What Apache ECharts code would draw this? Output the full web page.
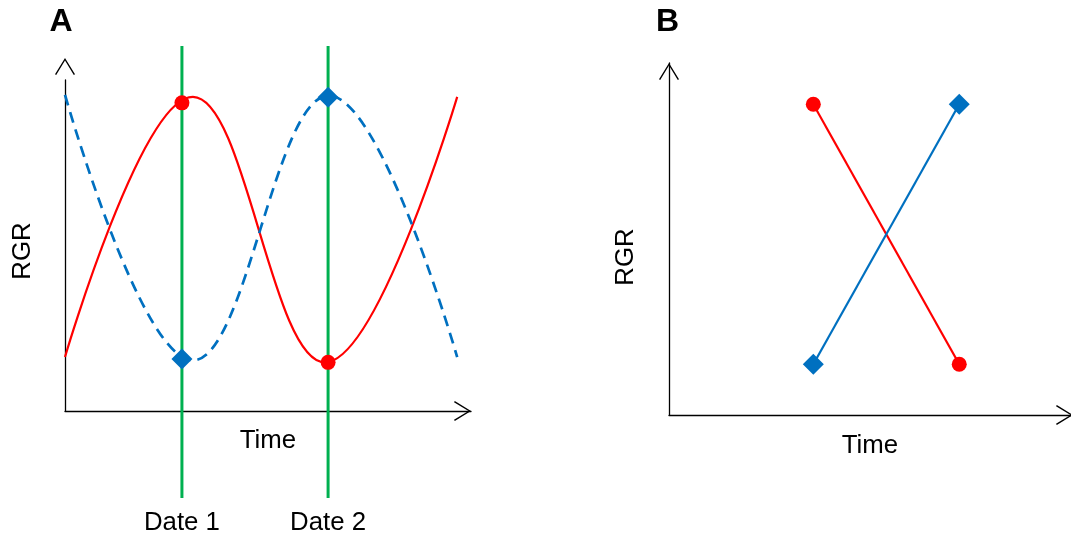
<!DOCTYPE html>
<html>
<head>
<meta charset="utf-8">
<script src="https://cdn.jsdelivr.net/npm/echarts@6/dist/echarts.min.js"></script>
<style>
  html, body { margin: 0; padding: 0; background: #fff; }
  #chart { width: 1071px; height: 535px; }
</style>
</head>
<body>
<div id="chart"></div>
<script>
// ---------- data (arbitrary units) ----------
const panelTitles = ['A', 'B'];
const axisNameX = 'Time';
const axisNameY = 'RGR';
const dateNames = ['Date 1', 'Date 2'];
const datePositions = [28.8, 64.8];          // time position of the two sampling dates (panel A)

// Panel A: smooth RGR curves through time
const timeRedA = [0, 31.5, 64.0, 96.6];
const rgrRedA = [16.3, 94.9, 14.7, 94.9];     // red solid
const timeBlueA = [0, 31.5, 65.0, 96.6];
const rgrBlueA = [95.5, 15.3, 95.3, 16.3];    // blue dashed

// Panel A: values sampled at the two dates
const redAtDates = [93.1, 14.7];
const blueAtDates = [15.7, 94.8];

// Panel B: RGR at the two dates
const timeB = [35.9, 72.2];
const rgrRedB = [88.3, 14.4];
const rgrBlueB = [14.4, 88.3];

// ---------- styling ----------
const RED = '#FF0000';
const BLUE = '#0070C0';
const GREEN = '#00B050';
const FONT = "'Liberation Sans', Arial, sans-serif";
const FS = 25.8;
const chevron = 'path://M0,16.2 L10,0 L20,16.2 L18.8,17 L10,2.5 L1.2,17 Z';

const pairs = (xs, ys) => xs.map((x, i) => [x, ys[i]]);

function axisCommon(extra) {
  return Object.assign({
    type: 'value', min: 0, max: 100,
    axisTick: { show: false },
    axisLabel: { show: false },
    splitLine: { show: false },
    nameLocation: 'middle',
    nameMoveOverlap: false,
    nameTextStyle: { fontFamily: FONT, fontSize: FS, color: '#000' }
  }, extra);
}

const chart = echarts.init(document.getElementById('chart'), null, { renderer: 'canvas' });

const option = {
  animation: false,
  backgroundColor: '#fff',
  title: [
    { text: panelTitles[0], left: 49.5, top: 6, padding: 0,
      textStyle: { fontFamily: FONT, fontSize: 32, fontWeight: 'bold', color: '#000' } },
    { text: panelTitles[1], left: 656, top: 6, padding: 0,
      textStyle: { fontFamily: FONT, fontSize: 32, fontWeight: 'bold', color: '#000' } }
  ],
  grid: [
    { left: 65, right: 600, top: 80, bottom: 124, containLabel: false, outerBoundsMode: 'none' },   // A
    { left: 669, right: 0, top: 63, bottom: 120, containLabel: false, outerBoundsMode: 'none' },    // B
    { left: 65, right: 600, top: 46, bottom: 37, containLabel: false, outerBoundsMode: 'none' }     // A date lines
  ],
  xAxis: [
    axisCommon({
      gridIndex: 0, name: axisNameX, nameGap: 16.5,
      axisLine: { show: true, onZero: false, symbol: ['none', chevron], symbolSize: [20, 17], symbolOffset: [0, -8.5],
        lineStyle: { color: '#000', width: 1.3 } }
    }),
    axisCommon({
      gridIndex: 1, name: axisNameX, nameGap: 17.5,
      axisLine: { show: true, onZero: false, symbol: ['none', chevron], symbolSize: [20, 17], symbolOffset: [0, -6.5],
        lineStyle: { color: '#000', width: 1.3 } }
    }),
    { type: 'value', gridIndex: 2, min: 0, max: 100, show: false }
  ],
  yAxis: [
    axisCommon({
      gridIndex: 0, name: axisNameY, nameGap: 29.5,
      nameTextStyle: { fontFamily: FONT, fontSize: FS, color: '#000', padding: [0, 11, 0, 0] },
      axisLine: { show: true, onZero: false, symbol: ['none', chevron], symbolSize: [20, 17], symbolOffset: [0, 13.5],
        lineStyle: { color: '#000', width: 1.3 } }
    }),
    axisCommon({
      gridIndex: 1, name: axisNameY, nameGap: 30,
      nameTextStyle: { fontFamily: FONT, fontSize: FS, color: '#000', padding: [0, 36, 0, 0] },
      axisLine: { show: true, onZero: false, symbol: ['none', chevron], symbolSize: [20, 17], symbolOffset: [0, -8.5],
        lineStyle: { color: '#000', width: 1.3 } }
    }),
    { type: 'value', gridIndex: 2, min: 0, max: 1, show: false }
  ],
  series: [
    // green date lines (span beyond panel A plot area)
    ...datePositions.map((x, i) => ({
      name: dateNames[i], type: 'line', xAxisIndex: 2, yAxisIndex: 2,
      data: [[x, 0], [x, 1]], showSymbol: false, silent: true,
      lineStyle: { color: GREEN, width: 3, opacity: 1 }, z: 2
    })),
    {
      name: 'date labels', type: 'scatter', xAxisIndex: 2, yAxisIndex: 2,
      data: datePositions.map((x, i) => [x, 0, dateNames[i]]),
      symbolSize: 1, itemStyle: { color: 'rgba(0,0,0,0)', opacity: 1 }, silent: true,
      label: { show: true, position: 'bottom', distance: 11.5, formatter: p => p.value[2],
        fontFamily: FONT, fontSize: FS, color: '#000', opacity: 1 }
    },
    // panel A curves
    {
      name: 'red A', type: 'line', xAxisIndex: 0, yAxisIndex: 0,
      data: pairs(timeRedA, rgrRedA), smooth: 0.4, showSymbol: false,
      lineStyle: { color: RED, width: 2.2, opacity: 1 }, z: 3
    },
    {
      name: 'blue A', type: 'line', xAxisIndex: 0, yAxisIndex: 0,
      data: pairs(timeBlueA, rgrBlueA), smooth: 0.4, showSymbol: false,
      lineStyle: { color: BLUE, width: 2.7, type: [11, 7], opacity: 1 }, z: 3
    },
    {
      name: 'red at dates', type: 'scatter', xAxisIndex: 0, yAxisIndex: 0,
      data: pairs(datePositions, redAtDates), symbol: 'circle', symbolSize: 15,
      itemStyle: { color: RED, opacity: 1 }, z: 5
    },
    {
      name: 'blue at dates', type: 'scatter', xAxisIndex: 0, yAxisIndex: 0,
      data: pairs(datePositions, blueAtDates), symbol: 'diamond', symbolSize: 21,
      itemStyle: { color: BLUE, opacity: 1 }, z: 5
    },
    // panel B
    {
      name: 'red B', type: 'line', xAxisIndex: 1, yAxisIndex: 1,
      data: pairs(timeB, rgrRedB), symbol: 'circle', symbolSize: 15, showSymbol: true,
      lineStyle: { color: RED, width: 2.2 }, itemStyle: { color: RED, opacity: 1 }, z: 3
    },
    {
      name: 'blue B', type: 'line', xAxisIndex: 1, yAxisIndex: 1,
      data: pairs(timeB, rgrBlueB), symbol: 'diamond', symbolSize: 21, showSymbol: true,
      lineStyle: { color: BLUE, width: 2.2 }, itemStyle: { color: BLUE, opacity: 1 }, z: 3
    }
  ]
};

chart.setOption(option);
</script>
</body>
</html>
